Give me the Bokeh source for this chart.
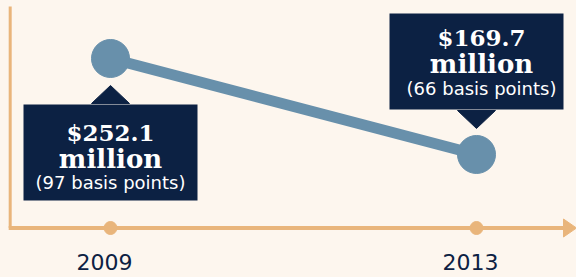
from bokeh.plotting import figure
from bokeh.models import ColumnDataSource, GlobalInlineStyleSheet
from bokeh.core.properties import value
from bokeh.embed import file_html
from bokeh.resources import INLINE

# ---------------- data ----------------
years = [2009, 2013]
year_labels = ["2009", "2013"]
amounts = [252.1, 169.7]                 # $ million
amount_labels = ["$252.1", "$169.7"]
unit_labels = ["million", "million"]
basis_points = [97, 66]
bp_labels = ["(97 basis points)", "(66 basis points)"]
callout_side = ["below", "above"]

# ---------------- style / layout ----------------
BG = "#fdf6ee"
ORANGE = "#e9b57b"
BLUE = "#6890ab"
NAVY = "#0c2143"

W, H = 576, 277
X0, X1 = 2007.7978, 2014.0929
Y0, Y1 = 64.125, 301.883
BASE = 106.61         # value at which the time axis is drawn
AXIS_X = 2007.9038    # x at which the vertical axis is drawn


def dx(px):
    return px * (X1 - X0) / W


def dy(px):
    return px * (Y1 - Y0) / H


# callout geometry (screen px, relative to the point; + = down)
LAYOUT = {
    "below": dict(box=94, base=45, apex=27, text=[74, 101, 124], tx=0),
    "above": dict(box=-93, base=-44, apex=-26, text=[-117, -90, -66], tx=5),
}
BOX_W, BOX_H = 174, 96

p = figure(width=W, height=H, x_range=(X0, X1), y_range=(Y0, Y1),
           output_backend="svg", toolbar_location=None,
           background_fill_color=BG, border_fill_color=BG,
           outline_line_color=None, min_border=0)
p.min_border_left = p.min_border_right = p.min_border_top = p.min_border_bottom = 0
p.xaxis.visible = False
p.yaxis.visible = False
p.xgrid.visible = False
p.ygrid.visible = False
p.stylesheets = [GlobalInlineStyleSheet(css="html, body { background: %s; }" % BG)]

# axes (orange)
p.line([AXIS_X, AXIS_X], [BASE, Y1 - dy(6)], line_width=3, line_color=ORANGE)
p.line([AXIS_X - dx(1.5), X1 - dx(11)], [BASE, BASE], line_width=4, line_color=ORANGE)
p.patch([X1 - dx(13), X1, X1 - dx(13)], [BASE + dy(9), BASE, BASE - dy(9)],
        fill_color=ORANGE, line_color=ORANGE, line_width=1)
p.scatter(years, [BASE] * len(years), size=13, color=ORANGE)

# year labels
p.text(x=years, y=[BASE] * len(years), text=year_labels,
       x_offset=-6, y_offset=33.5,
       text_font=value("DejaVu Sans"), text_font_size="22px", text_color=NAVY,
       text_align="center", text_baseline="alphabetic")

# data line and points
p.line(years, amounts, line_width=11, line_color=BLUE)
p.scatter(years, amounts, size=38, color=BLUE)

# callouts
box_y, tri_xs, tri_ys = [], [], []
t1, t2, t3, tx = [], [], [], []
for yr, amt, side in zip(years, amounts, callout_side):
    L = LAYOUT[side]
    box_y.append(amt - dy(L["box"]))
    tri_xs.append([yr - dx(19), yr, yr + dx(19)])
    tri_ys.append([amt - dy(L["base"]), amt - dy(L["apex"]), amt - dy(L["base"])])
    t1.append(L["text"][0]); t2.append(L["text"][1]); t3.append(L["text"][2])
    tx.append(L["tx"])

src = ColumnDataSource(dict(x=years, y=amounts, box_y=box_y,
                            amt=amount_labels, unit=unit_labels, bp=bp_labels,
                            t1=t1, t2=t2, t3=t3, tx=tx))

p.patches(tri_xs, tri_ys, fill_color=NAVY, line_color=NAVY, line_width=1)
p.rect(x="x", y="box_y", width=BOX_W, height=BOX_H, width_units="screen",
       height_units="screen", fill_color=NAVY, line_color=None, source=src)

p.text(x="x", y="y", text="amt", x_offset="tx", y_offset="t1", source=src,
       text_font=value("DejaVu Serif"), text_font_style="bold", text_font_size="23px",
       text_color="white", text_align="center", text_baseline="alphabetic")
p.text(x="x", y="y", text="unit", x_offset="tx", y_offset="t2", source=src,
       text_font=value("DejaVu Serif"), text_font_style="bold", text_font_size="26px",
       text_color="white", text_align="center", text_baseline="alphabetic")
p.text(x="x", y="y", text="bp", x_offset="tx", y_offset="t3", source=src,
       text_font=value("DejaVu Sans"), text_font_size="18px",
       text_color="white", text_align="center", text_baseline="alphabetic")

open("out.html", "w").write(file_html(p, INLINE))
